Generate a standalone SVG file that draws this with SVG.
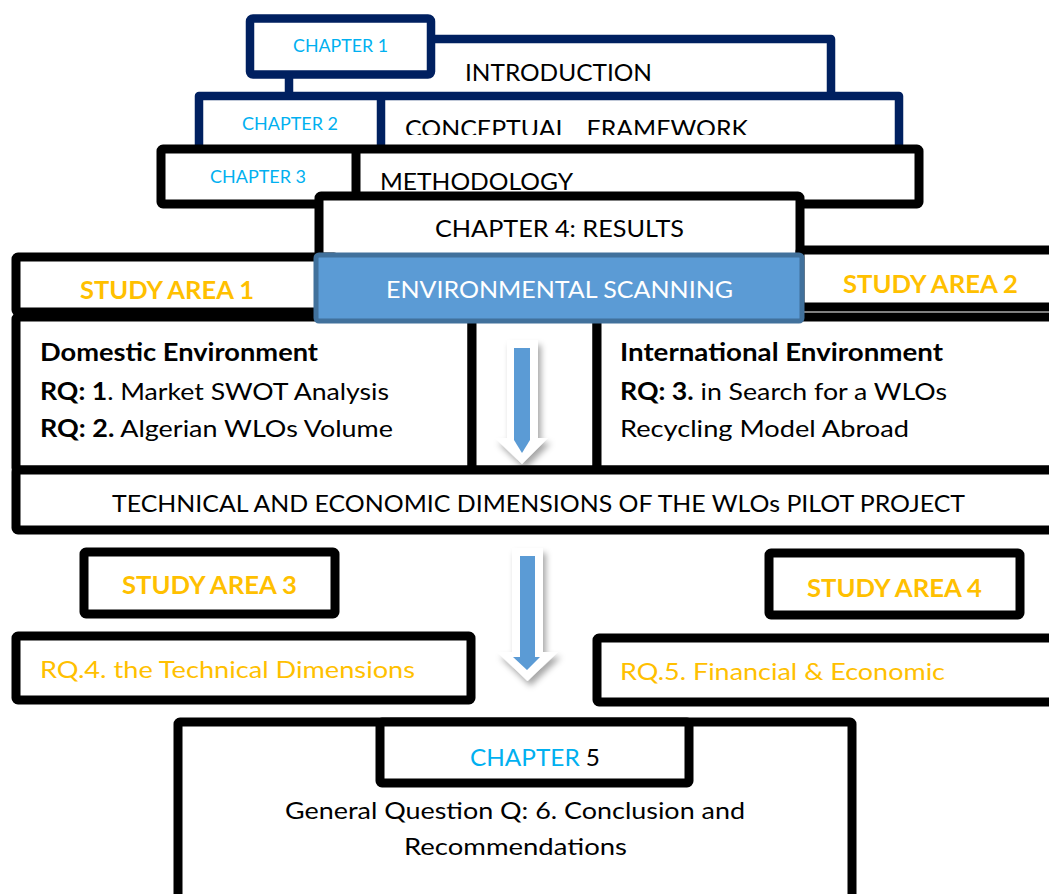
<svg xmlns="http://www.w3.org/2000/svg" width="1049" height="894" viewBox="0 0 1049 894">
<defs>
<style>
.nv{fill:#fff;stroke:#002060;stroke-width:8.5;stroke-linejoin:round}
.bk{fill:#fff;stroke:#000;stroke-width:9;stroke-linejoin:round}
.t{font-family:Lato,"Open Sans",sans-serif;font-size:24px;fill:#000}
.ch{font-family:Lato,"Open Sans",sans-serif;font-size:17px;fill:#00b0f0}
.b{font-weight:bold}
.or{fill:#ffc000}
</style>
<clipPath id="c2"><rect x="380" y="100" width="520" height="35"/></clipPath>
<clipPath id="c3"><rect x="360" y="153" width="560" height="38"/></clipPath>
<filter id="sh" x="-50%" y="-20%" width="200%" height="150%">
<feDropShadow dx="3" dy="5" stdDeviation="3" flood-color="#000" flood-opacity="0.35"/>
</filter>
</defs>

<g id="chapter1">
<rect class="nv" x="289" y="39" width="542" height="70"/>
<rect class="nv" x="250" y="18.5" width="181" height="56" rx="3"/>
<text class="ch" x="293" y="52" textLength="95" lengthAdjust="spacingAndGlyphs">CHAPTER 1</text>
<text class="t" x="465" y="80.5" textLength="187" lengthAdjust="spacingAndGlyphs">INTRODUCTION</text>
</g>

<g id="chapter2">
<rect class="nv" x="199" y="96" width="700" height="70"/>
<line x1="381" y1="96" x2="381" y2="166" stroke="#002060" stroke-width="8.5"/>
<text class="ch" x="242" y="130" textLength="96" lengthAdjust="spacingAndGlyphs">CHAPTER 2</text>
<text class="t" x="405" y="136.5" textLength="343" lengthAdjust="spacingAndGlyphs" clip-path="url(#c2)" xml:space="preserve">CONCEPTUAL   FRAMEWORK</text>
</g>

<g id="chapter3">
<rect class="bk" x="161" y="149" width="758" height="55" rx="2"/>
<line x1="356" y1="149" x2="356" y2="204" stroke="#000" stroke-width="9"/>
<text class="ch" x="210" y="183" textLength="96" lengthAdjust="spacingAndGlyphs">CHAPTER 3</text>
<text class="t" x="380" y="189.5" textLength="193" lengthAdjust="spacingAndGlyphs" clip-path="url(#c3)">METHODOLOGY</text>
</g>

<g id="chapter4">
<rect class="bk" x="319" y="196" width="481" height="70" rx="2"/>
<text class="t" x="435" y="236.5" textLength="249" lengthAdjust="spacingAndGlyphs">CHAPTER 4: RESULTS</text>
</g>

<g id="study-area-1">
<rect class="bk" x="16" y="257" width="320" height="55" rx="2"/>
<text class="t b or" x="80" y="298.5" textLength="174" lengthAdjust="spacingAndGlyphs">STUDY AREA 1</text>
</g>

<g id="study-area-2">
<rect class="bk" x="800" y="250" width="300" height="57" rx="2"/>
<text class="t b or" x="843" y="292.5" textLength="175" lengthAdjust="spacingAndGlyphs">STUDY AREA 2</text>
</g>

<g id="domestic">
<rect class="bk" x="16" y="317" width="456" height="153" rx="2"/>
<text class="t b" x="40" y="360.5" textLength="278" lengthAdjust="spacingAndGlyphs">Domestic Environment</text>
<text class="t" x="40" y="399.5" textLength="349" lengthAdjust="spacingAndGlyphs"><tspan class="b">RQ: 1</tspan>. Market SWOT Analysis</text>
<text class="t" x="40" y="436.5" textLength="353" lengthAdjust="spacingAndGlyphs"><tspan class="b">RQ: 2.</tspan> Algerian WLOs Volume</text>
</g>

<g id="middle">
<rect class="bk" x="472" y="317" width="125" height="153"/>
</g>

<g id="international">
<rect class="bk" x="597" y="317" width="500" height="153"/>
<text class="t b" x="620" y="360.5" textLength="323" lengthAdjust="spacingAndGlyphs">International Environment</text>
<text class="t" x="620" y="399.5" textLength="327" lengthAdjust="spacingAndGlyphs"><tspan class="b">RQ: 3.</tspan> in Search for a WLOs</text>
<text class="t" x="620" y="436.5" textLength="289" lengthAdjust="spacingAndGlyphs">Recycling Model Abroad</text>
</g>

<g id="environmental-scanning">
<rect x="316" y="255" width="486" height="66" rx="3" fill="#5b9bd5" stroke="#41719c" stroke-width="5"/>
<text class="t" x="386" y="297.5" style="fill:#fff" textLength="347" lengthAdjust="spacingAndGlyphs">ENVIRONMENTAL SCANNING</text>
</g>

<g id="technical">
<rect class="bk" x="16" y="470" width="1100" height="60" rx="2"/>
<text class="t" x="112" y="511.5" textLength="853" lengthAdjust="spacingAndGlyphs">TECHNICAL AND ECONOMIC DIMENSIONS OF THE WLOs PILOT PROJECT</text>
</g>

<g id="study-area-3">
<rect class="bk" x="84" y="552" width="251" height="62" rx="2"/>
<text class="t b or" x="122" y="593.5" textLength="175" lengthAdjust="spacingAndGlyphs">STUDY AREA 3</text>
</g>

<g id="study-area-4">
<rect class="bk" x="769" y="553" width="251" height="62" rx="2"/>
<text class="t b or" x="807" y="596.5" textLength="175" lengthAdjust="spacingAndGlyphs">STUDY AREA 4</text>
</g>

<g id="rq4">
<rect class="bk" x="16" y="636" width="455" height="64" rx="2"/>
<text class="t or" x="40" y="677.5" textLength="375" lengthAdjust="spacingAndGlyphs">RQ.4. the Technical Dimensions</text>
</g>

<g id="rq5">
<rect class="bk" x="597" y="638" width="500" height="64" rx="2"/>
<text class="t or" x="620" y="679.5" textLength="325" lengthAdjust="spacingAndGlyphs">RQ.5. Financial &amp; Economic</text>
</g>

<g id="chapter5">
<rect class="bk" x="178" y="722" width="674" height="200" rx="2"/>
<rect class="bk" x="380" y="722" width="309" height="61" rx="2"/>
<text class="t" x="470" y="765.5" textLength="130" lengthAdjust="spacingAndGlyphs"><tspan style="fill:#00b0f0">CHAPTER</tspan> 5</text>
<text class="t" x="285" y="818.5" textLength="460" lengthAdjust="spacingAndGlyphs">General Question Q: 6. Conclusion and</text>
<text class="t" x="404" y="854.5" textLength="223" lengthAdjust="spacingAndGlyphs">Recommendations</text>
</g>

<g id="connectors">
<g filter="url(#sh)">
<polygon points="507,340 538,340 538,438 548,438 522,464 495,438 507,438" fill="#fff"/>
</g>
<polygon points="514,348 530,348 530,440 522,453 514,440" fill="#5b9bd5"/>
<g filter="url(#sh)">
<polygon points="512,548 543,548 543,652 558,652 527.5,681 497,652 512,652" fill="#fff"/>
</g>
<polygon points="520,556 535,556 535,657 540,657 527,670 513,657 520,657" fill="#5b9bd5"/>
</g>
</svg>
